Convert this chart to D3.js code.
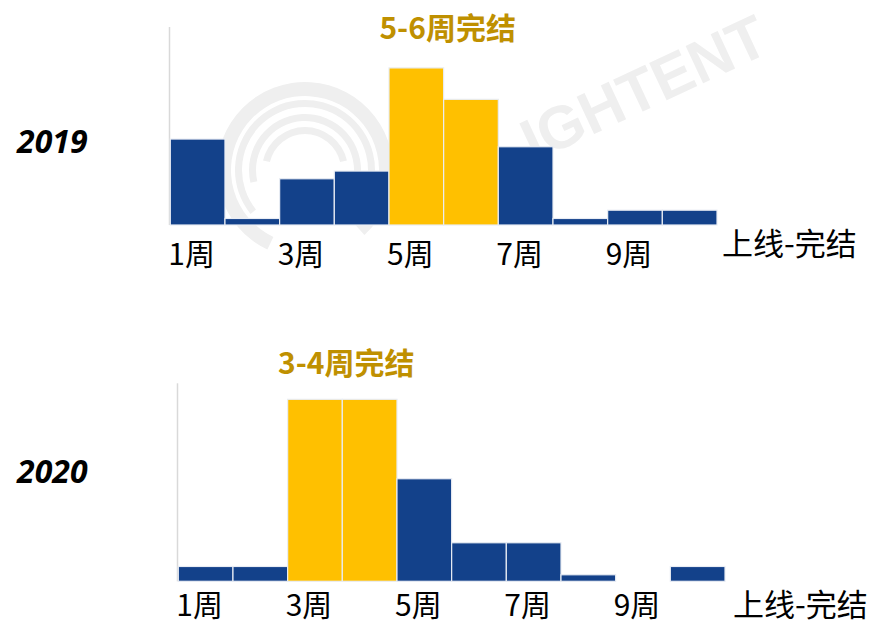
<!DOCTYPE html>
<html>
<head>
<meta charset="utf-8">
<script src="https://cdn.jsdelivr.net/npm/d3@7"></script>
<style>
  body { margin: 0; background: #fff; }
  svg { display: block; }
</style>
</head>
<body>
<div id="chart"></div>
<script>
// weekly share of titles, by weeks from launch to finish (%)
var weeks = ["1周", "2周", "3周", "4周", "5周", "6周", "7周", "8周", "9周", "10周"];
var tickWeeks = ["1周", "3周", "5周", "7周", "9周"];
var share2019 = [14.5, 1.1, 7.8, 9.1, 26.5, 21.2, 13.2, 1.1, 2.5, 2.5];
var share2020 = [2.5, 2.5, 30.7, 30.7, 17.3, 6.5, 6.5, 1.1, 0, 2.5];
var hot2019 = ["5周", "6周"];
var hot2020 = ["3周", "4周"];
var years = ["2019", "2020"];
var titles = ["5-6周完结", "3-4周完结"];
var axisName = "上线-完结";
var yMax = 33.4;

var W = 871, H = 624;
var cjk = "'Noto Sans CJK SC', 'Noto Sans', sans-serif";

var svg = d3.select("#chart")
  .append("svg")
  .attr("width", W)
  .attr("height", H);

// faint watermark behind the charts
var wm = svg.append("g").attr("transform", "translate(305,170)");
[88, 70, 56, 43].forEach(function(r, i) {
  var arc = d3.arc()
    .innerRadius(r - (i == 0 ? 14 : 7))
    .outerRadius(r)
    .startAngle(-2.7 + i * 0.45)
    .endAngle(2.4 - i * 0.35);
  wm.append("path")
    .attr("d", arc())
    .attr("fill", "#efefef");
});
svg.append("text")
  .attr("transform", "translate(500,178) rotate(-25)")
  .attr("font-family", "'Liberation Sans', sans-serif")
  .attr("font-weight", "bold")
  .attr("font-size", 60)
  .attr("fill", "#efefef")
  .text("LIGHTENT");

var panels = [
  { year: years[0], values: share2019, hot: hot2019, title: titles[0],
    left: 170.3, top: 27, yearY: 153, titleY: 39, tickDy: 40, nameDx: 5, nameDy: 30 },
  { year: years[1], values: share2020, hot: hot2020, title: titles[1],
    left: 178.3, top: 383.3, yearY: 483, titleY: 374, tickDy: 35, nameDx: 8, nameDy: 35 }
];

var width = 546.7, height = 198;

var x = d3.scaleBand()
  .domain(weeks)
  .range([0, width])
  .padding(0);

var y = d3.scaleLinear()
  .domain([0, yMax])
  .range([height, 0]);

panels.forEach(function(p) {
  var g = svg.append("g")
    .attr("transform", "translate(" + p.left + "," + p.top + ")");

  // left axis line only
  g.append("line")
    .attr("x1", -0.8).attr("x2", -0.8)
    .attr("y1", 0).attr("y2", height)
    .attr("stroke", "#d9d9d9")
    .attr("stroke-width", 1.5);

  g.selectAll(".bar")
    .data(weeks.map(function(w, i) { return { week: w, value: p.values[i] }; }))
    .enter()
    .append("rect")
    .attr("class", "bar")
    .attr("x", function(d) { return x(d.week); })
    .attr("y", function(d) { return y(d.value); })
    .attr("width", x.bandwidth())
    .attr("height", function(d) { return height - y(d.value); })
    .attr("fill", function(d) { return p.hot.indexOf(d.week) >= 0 ? "#FFC000" : "#13418A"; })
    .attr("stroke", function(d) { return d.value > 0 ? "#e9edf4" : "none"; })
    .attr("stroke-width", 1.2);

  // week labels, left aligned to their bar
  var xAxis = g.append("g")
    .attr("transform", "translate(0," + height + ")")
    .call(d3.axisBottom(x).tickValues(tickWeeks).tickSize(0));
  xAxis.select(".domain").remove();
  xAxis.selectAll("text")
    .attr("x", -x.bandwidth() / 2 - 2)
    .attr("y", p.tickDy)
    .attr("dy", 0)
    .attr("text-anchor", "start")
    .attr("font-family", cjk)
    .attr("font-size", 30)
    .attr("fill", "#000");

  g.append("text")
    .attr("x", width + p.nameDx)
    .attr("y", height + p.nameDy)
    .attr("font-family", cjk)
    .attr("font-size", 31)
    .attr("fill", "#000")
    .text(axisName);

  // callout over the highlighted weeks
  g.append("text")
    .attr("x", x(p.hot[0]) + x.bandwidth() + 4)
    .attr("y", p.titleY - p.top)
    .attr("text-anchor", "middle")
    .attr("font-family", cjk)
    .attr("font-weight", "bold")
    .attr("font-size", 30)
    .attr("fill", "#BF9000")
    .text(p.title);

  svg.append("text")
    .attr("x", 17)
    .attr("y", p.yearY)
    .attr("font-family", "'Open Sans', sans-serif")
    .attr("font-weight", "bold")
    .attr("font-style", "italic")
    .attr("font-size", 32)
    .attr("fill", "#000")
    .text(p.year);
});
</script>
</body>
</html>
